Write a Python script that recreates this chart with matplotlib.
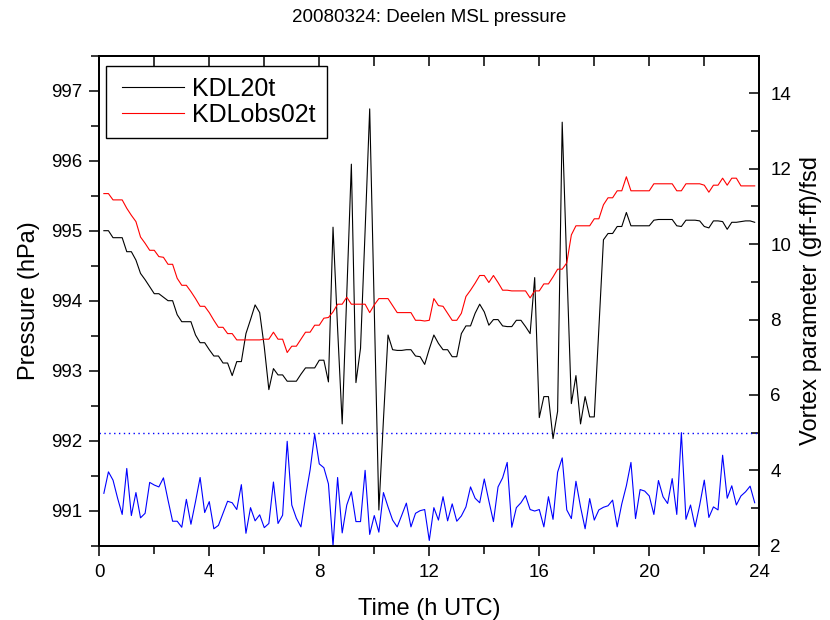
import numpy as np
import matplotlib
matplotlib.use("Agg")
import matplotlib.pyplot as plt
from matplotlib.ticker import MultipleLocator
from matplotlib.legend_handler import HandlerLine2D

plt.rcParams['font.family'] = ['Liberation Sans', 'DejaVu Sans']

# time in hours UTC (10-minute steps)
time_h = np.arange(1, 144) / 6.0

kdl20t = [
    995.00, 995.00, 994.90, 994.90, 994.90, 994.70, 994.70, 994.58, 994.39, 994.30,
    994.20, 994.10, 994.10, 994.05, 994.00, 994.00, 993.80, 993.70, 993.70, 993.70,
    993.51, 993.40, 993.40, 993.30, 993.21, 993.21, 993.11, 993.11, 992.93, 993.13,
    993.13, 993.53, 993.73, 993.94, 993.83, 993.34, 992.73, 993.03, 992.94, 992.94,
    992.85, 992.85, 992.85, 992.95, 993.04, 993.04, 993.04, 993.15, 993.15, 992.84,
    995.05, 993.60, 992.24, 994.10, 995.95, 992.83, 993.32, 995.00, 996.74, 993.90,
    991.01, 992.30, 993.51, 993.30, 993.29, 993.29, 993.30, 993.30, 993.21, 993.20,
    993.09, 993.31, 993.51, 993.39, 993.30, 993.30, 993.20, 993.20, 993.53, 993.64,
    993.64, 993.82, 993.95, 993.84, 993.65, 993.73, 993.73, 993.64, 993.63, 993.63,
    993.72, 993.72, 993.63, 993.53, 994.33, 992.33, 992.63, 992.63, 992.03, 992.42,
    996.55, 994.50, 992.53, 992.93, 992.24, 992.63, 992.34, 992.34, 993.60, 994.87,
    994.96, 994.96, 995.06, 995.06, 995.26, 995.07, 995.07, 995.07, 995.07, 995.07,
    995.15, 995.16, 995.16, 995.16, 995.16, 995.07, 995.06, 995.15, 995.15, 995.15,
    995.14, 995.06, 995.04, 995.14, 995.14, 995.13, 995.02, 995.12, 995.12, 995.13,
    995.14, 995.14, 995.12,
]

kdlobs02t = [
    995.53, 995.53, 995.44, 995.44, 995.44, 995.32, 995.22, 995.13, 994.91, 994.82,
    994.72, 994.72, 994.63, 994.62, 994.52, 994.52, 994.32, 994.22, 994.22, 994.13,
    994.03, 993.92, 993.92, 993.83, 993.72, 993.62, 993.62, 993.53, 993.53, 993.44,
    993.44, 993.44, 993.44, 993.44, 993.44, 993.45, 993.45, 993.55, 993.45, 993.45,
    993.26, 993.35, 993.35, 993.45, 993.55, 993.55, 993.65, 993.65, 993.75, 993.76,
    993.84, 993.95, 993.95, 994.05, 993.95, 993.95, 993.95, 993.95, 993.83, 993.94,
    994.03, 994.03, 994.03, 993.93, 993.83, 993.83, 993.83, 993.83, 993.72, 993.72,
    993.71, 993.72, 994.03, 993.93, 993.92, 993.82, 993.72, 993.72, 993.82, 994.06,
    994.15, 994.25, 994.36, 994.36, 994.26, 994.36, 994.26, 994.15, 994.15, 994.14,
    994.14, 994.14, 994.14, 994.04, 994.14, 994.14, 994.24, 994.24, 994.34, 994.45,
    994.45, 994.54, 994.94, 995.07, 995.07, 995.07, 995.07, 995.17, 995.17, 995.37,
    995.47, 995.47, 995.57, 995.57, 995.77, 995.57, 995.57, 995.57, 995.57, 995.57,
    995.67, 995.67, 995.67, 995.67, 995.67, 995.57, 995.57, 995.67, 995.67, 995.67,
    995.67, 995.65, 995.55, 995.65, 995.65, 995.75, 995.65, 995.75, 995.75, 995.64,
    995.64, 995.64, 995.64,
]

vortex = [
    3.39, 3.96, 3.74, 3.26, 2.83, 4.05, 2.80, 3.41, 2.74, 2.86,
    3.68, 3.61, 3.56, 3.80, 3.21, 2.65, 2.65, 2.49, 3.23, 2.57,
    3.17, 3.81, 2.88, 3.17, 2.45, 2.54, 2.86, 3.18, 3.14, 2.96,
    3.62, 2.33, 3.01, 2.66, 2.82, 2.48, 2.59, 3.69, 2.59, 2.81,
    4.77, 3.08, 2.73, 2.50, 3.30, 4.01, 4.96, 4.17, 4.07, 3.64,
    2.00, 3.81, 2.34, 3.08, 3.43, 2.64, 2.64, 4.00, 2.30, 2.80,
    2.36, 3.41, 3.03, 2.68, 2.50, 2.81, 3.13, 2.50, 2.86, 2.93,
    2.96, 2.14, 3.01, 2.68, 3.30, 2.66, 3.11, 2.65, 2.79, 3.03,
    3.56, 3.26, 3.14, 3.77, 3.19, 2.64, 3.56, 3.80, 4.21, 2.49,
    3.01, 3.14, 3.33, 2.96, 2.92, 2.96, 2.50, 3.30, 2.70, 3.95,
    4.33, 2.95, 2.72, 3.71, 3.03, 2.45, 3.25, 2.68, 2.95, 3.02,
    3.06, 3.21, 2.50, 3.11, 3.59, 4.21, 2.72, 3.49, 3.45, 3.32,
    2.83, 3.73, 3.30, 3.12, 3.78, 2.83, 5.00, 2.70, 3.08, 2.50,
    3.08, 3.74, 2.75, 3.03, 2.95, 4.40, 3.26, 3.59, 3.08, 3.32,
    3.43, 3.58, 3.14,
]
vortex_threshold = 5.0

fig = plt.figure(figsize=(8.3, 6.2), dpi=100)
ax = fig.add_axes([0.1196, 0.1198, 0.7952, 0.7904])

l1, = ax.plot(time_h, kdl20t, color='black', lw=0.8)
l2, = ax.plot(time_h, kdlobs02t, color='red', lw=0.8)
ax.set_xlim(0, 24)
ax.set_ylim(990.5, 997.5)
ax.xaxis.set_major_locator(MultipleLocator(4))
ax.xaxis.set_minor_locator(MultipleLocator(2))
ax.yaxis.set_major_locator(MultipleLocator(1))
ax.yaxis.set_minor_locator(MultipleLocator(0.5))
ax.tick_params(axis='both', which='major', direction='out', length=7.5, width=1.1,
               labelsize=13.5)
ax.tick_params(axis='both', which='minor', direction='out', length=6, width=1.1)
ax.tick_params(axis='y', which='both', right=True)
ax.tick_params(axis='y', which='both', pad=5)
ax.tick_params(axis='x', which='both', pad=6)
for s in ax.spines.values():
    s.set_linewidth(1.3)

top = ax.secondary_xaxis('top')
top.xaxis.set_major_locator(MultipleLocator(4))
top.xaxis.set_minor_locator(MultipleLocator(2))
top.tick_params(which='both', direction='in', length=7.5, width=1.1, labeltop=False)
top.spines['top'].set_linewidth(1.3)

ax.set_xlabel('Time (h UTC)', fontsize=17, labelpad=12)
ax.set_ylabel('Pressure (hPa)', fontsize=17, labelpad=8)
ax.set_title('20080324: Deelen MSL pressure', fontsize=13.5, pad=24)

ax2 = ax.twinx()
ax2.plot(time_h, vortex, color='blue', lw=0.8)
ax2.axhline(vortex_threshold, color='blue', lw=1.0, linestyle=(0, (1, 2.5)))
ax2.set_ylim(2, 15)
ax2.yaxis.set_major_locator(MultipleLocator(2))
ax2.yaxis.set_minor_locator(MultipleLocator(1))
ax2.set_yticks([2, 4, 6, 8, 10, 12, 14])
ax2.tick_params(axis='y', which='major', direction='in', length=7.5, width=1.1,
                labelsize=13.5, pad=8)
ax2.tick_params(axis='y', which='minor', direction='in', length=6, width=1.1)
ax2.set_ylabel('Vortex parameter (gff-ff)/fsd', fontsize=17, labelpad=6)
for s in ax2.spines.values():
    s.set_linewidth(1.3)

hmap = {l1: HandlerLine2D(xpad=0.2), l2: HandlerLine2D(xpad=0.2)}
leg = ax.legend([l1, l2], ['KDL20t', 'KDLobs02t'], loc='upper left',
                bbox_to_anchor=(0.0097, 0.979), borderaxespad=0, fontsize=18,
                handlelength=2.7, handletextpad=0.3, labelspacing=0.08,
                borderpad=0.45, fancybox=False, framealpha=1, edgecolor='black',
                handler_map=hmap)
leg.get_frame().set_linewidth(1.0)
ax.set_zorder(ax2.get_zorder() + 1)
ax.patch.set_visible(False)

fig.savefig('out.png', dpi=100)
